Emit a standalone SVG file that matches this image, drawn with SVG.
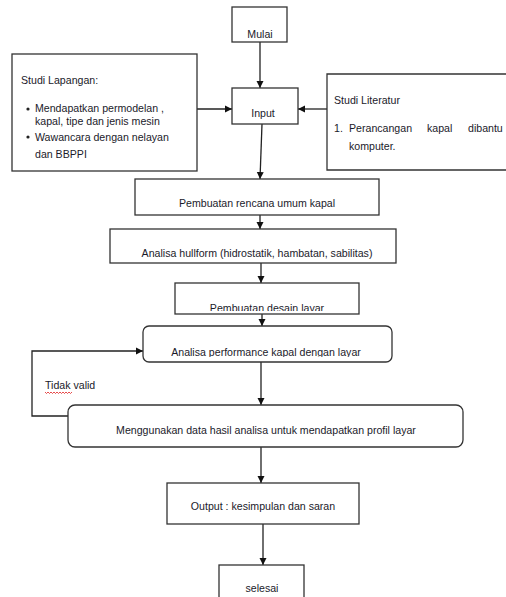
<svg xmlns="http://www.w3.org/2000/svg" width="506" height="597" viewBox="0 0 506 597">
<style>
.box{fill:#fff;stroke:#333;stroke-width:1.3}
.t{font-family:"Liberation Sans",Arial,sans-serif;font-size:10.6px;fill:#1a1a2a}
.c{text-anchor:middle}
.ln{fill:none;stroke:#222;stroke-width:1.3}
</style>
<defs>
<marker id="ah" markerWidth="8" markerHeight="8" refX="7" refY="4" orient="auto" markerUnits="userSpaceOnUse">
<path d="M0,0.5 L7,4 L0,7.5 Z" fill="#111"/>
</marker>
<clipPath id="cDesain"><rect x="175" y="283" width="184" height="28"/></clipPath>
<clipPath id="cPerf"><rect x="143" y="326" width="249" height="31"/></clipPath>
</defs>
<rect width="506" height="597" fill="#fff"/>

<g id="connectors">
<line class="ln" x1="260" y1="42" x2="260" y2="88" marker-end="url(#ah)"/>
<line class="ln" x1="197" y1="109" x2="232" y2="109" marker-end="url(#ah)"/>
<line class="ln" x1="327" y1="109" x2="298" y2="109" marker-end="url(#ah)"/>
<line class="ln" x1="262" y1="124" x2="260" y2="179" marker-end="url(#ah)"/>
<line class="ln" x1="260" y1="215" x2="260" y2="229" marker-end="url(#ah)"/>
<line class="ln" x1="261" y1="263" x2="261" y2="283" marker-end="url(#ah)"/>
<line class="ln" x1="262" y1="314" x2="262" y2="326" marker-end="url(#ah)"/>
<line class="ln" x1="261" y1="362" x2="261" y2="405" marker-end="url(#ah)"/>
<polyline class="ln" points="68,416 32,416 32,351 143,351" marker-end="url(#ah)"/>
<line class="ln" x1="261" y1="447" x2="261" y2="483" marker-end="url(#ah)"/>
<line class="ln" x1="263" y1="524" x2="263" y2="565" marker-end="url(#ah)"/>
<text class="t" x="45" y="389">Tidak valid</text>
<path d="M45,392 l1.5,1.5 l1.5,-1.5 l1.5,1.5 l1.5,-1.5 l1.5,1.5 l1.5,-1.5 l1.5,1.5 l1.5,-1.5 l1.5,1.5 l1.5,-1.5 l1.5,1.5 l1.5,-1.5 l1.5,1.5 l1.5,-1.5 l1.5,1.5 l1.5,-1.5 l1.5,1.5 l1.5,-1.5" fill="none" stroke="#e02020" stroke-width="0.8"/>
</g>

<g id="mulai">
<rect class="box" x="232" y="7" width="55" height="35"/>
<text class="t c" x="260" y="38">Mulai</text>
</g>

<g id="studi-lapangan">
<rect class="box" x="12" y="54" width="185" height="117"/>
<text class="t" x="21" y="84">Studi Lapangan:</text>
<circle cx="28" cy="109" r="1.6" fill="#222"/>
<text class="t" x="35" y="112">Mendapatkan permodelan ,</text>
<text class="t" x="35" y="125">kapal, tipe dan jenis mesin</text>
<circle cx="28" cy="137" r="1.6" fill="#222"/>
<text class="t" x="35" y="141">Wawancara dengan nelayan</text>
<text class="t" x="35" y="158">dan BBPPI</text>
</g>

<g id="input">
<rect class="box" x="232" y="88" width="66" height="36"/>
<text class="t c" x="263" y="117">Input</text>
</g>

<g id="studi-literatur">
<path class="box" d="M510,74 L327,74 L327,170 L510,170"/>
<text class="t" x="334" y="104">Studi Literatur</text>
<text class="t" x="334" y="132">1.</text>
<text class="t" x="349" y="132">Perancangan</text>
<text class="t" x="427" y="132">kapal</text>
<text class="t" x="468" y="132">dibantu</text>
<text class="t" x="349" y="150">komputer.</text>
</g>

<g id="rencana-umum">
<rect class="box" x="135" y="179" width="244" height="36"/>
<text class="t c" x="257" y="207">Pembuatan rencana umum kapal</text>
</g>

<g id="hullform">
<rect class="box" x="110" y="229" width="286" height="34"/>
<text class="t c" x="257" y="257">Analisa hullform (hidrostatik, hambatan, sabilitas)</text>
</g>

<g id="desain-layar">
<rect class="box" x="175" y="283" width="184" height="31"/>
<text class="t c" x="267" y="312" clip-path="url(#cDesain)">Pembuatan desain layar</text>
</g>

<g id="performance">
<rect class="box" x="143" y="326" width="249" height="36" rx="6"/>
<text class="t c" x="266" y="356" clip-path="url(#cPerf)">Analisa performance kapal dengan layar</text>
</g>

<g id="profil">
<rect class="box" x="68" y="405" width="395" height="42" rx="7"/>
<text class="t c" x="266" y="434">Menggunakan data hasil analisa untuk mendapatkan profil layar</text>
</g>

<g id="output">
<rect class="box" x="167" y="483" width="192" height="41"/>
<text class="t c" x="263" y="510">Output : kesimpulan dan saran</text>
</g>

<g id="selesai">
<rect class="box" x="219" y="565" width="85" height="40"/>
<text class="t c" x="262" y="592">selesai</text>
</g>
</svg>
